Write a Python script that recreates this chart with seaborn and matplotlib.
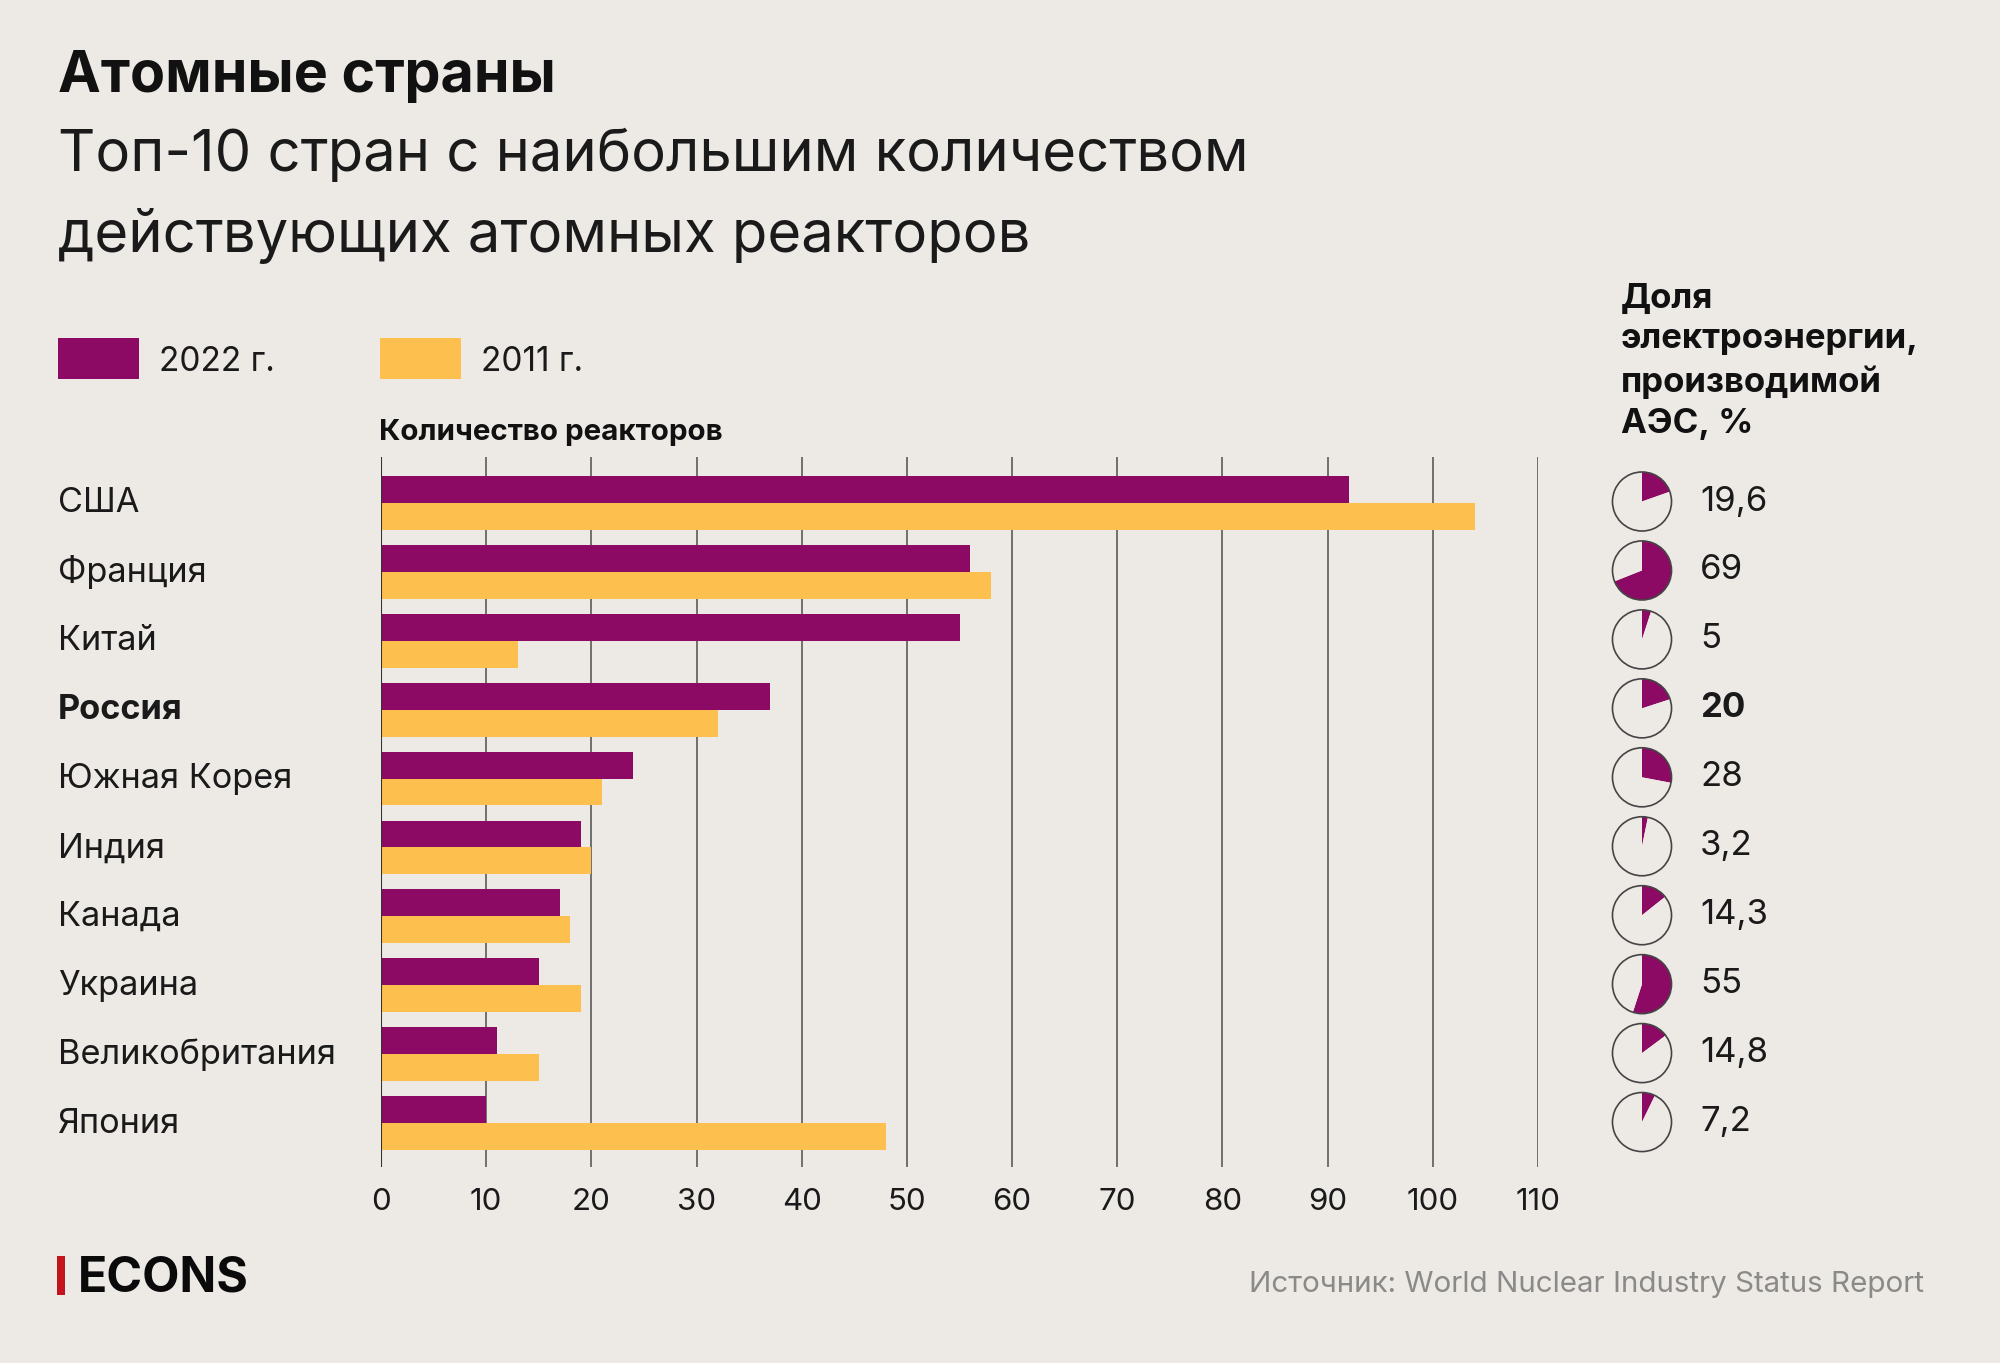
import seaborn as sns
import matplotlib.pyplot as plt
import pandas as pd
from matplotlib.patches import Rectangle

countries = ['США', 'Франция', 'Китай', 'Россия', 'Южная Корея', 'Индия', 'Канада', 'Украина', 'Великобритания', 'Япония']
reactors_2022 = [92, 56, 55, 37, 24, 19, 17, 15, 11, 10]
reactors_2011 = [104, 58, 13, 32, 21, 20, 18, 19, 15, 48]
nuclear_share = [19.6, 69, 5, 20, 28, 3.2, 14.3, 55, 14.8, 7.2]
share_labels = ['19,6', '69', '5', '20', '28', '3,2', '14,3', '55', '14,8', '7,2']
x_ticks = list(range(0, 111, 10))

BG = '#EDEAE6'
PLUM = '#8C0A63'
YELLOW = '#FDBF4D'
INK = '#1A1A1A'
W, H = 2000, 1363

sns.set_theme(style='white')
plt.rcParams['font.family'] = ['Inter', 'DejaVu Sans']

df = pd.DataFrame({
    'country': countries * 2,
    'count': reactors_2022 + reactors_2011,
    'year': ['2022 г.'] * 10 + ['2011 г.'] * 10,
})

fig = plt.figure(figsize=(W / 100, H / 100), dpi=100, facecolor=BG)

def fx(px):
    return px / W

def fy(px):
    return 1 - px / H

# main axes, pixel box of the plot area
ax = fig.add_axes([fx(381), fy(1167), fx(1538 - 381), (1167 - 457) / H], facecolor=BG)
sns.barplot(data=df, y='country', x='count', hue='year', order=countries,
            palette=[PLUM, YELLOW], width=0.78, gap=0, saturation=1, legend=False, ax=ax,
            zorder=3, linewidth=0)
ax.set_xlim(0, 110)
ax.set_ylim(9.64, -0.67)
ax.set_xticks(x_ticks)
ax.set_xlabel('')
ax.set_ylabel('')
ax.set_yticks([])
ax.grid(axis='x', color='#5A5A5A', linewidth=1.2, zorder=0)
ax.set_axisbelow(True)
sns.despine(ax=ax, left=True, right=True, top=True, bottom=True)
ax.axvline(0, color='#333333', linewidth=1.5, zorder=4)
ax.tick_params(axis='x', length=0, pad=15, labelsize=22.5, labelcolor=INK, bottom=False)

# titles
fig.text(fx(58), fy(77), 'Атомные страны', fontsize=41.3, fontweight='bold', color='#111111', va='center')
fig.text(fx(58), fy(156), 'Топ-10 стран с наибольшим количеством', fontsize=41.7, color=INK, va='center')
fig.text(fx(58), fy(236), 'действующих атомных реакторов', fontsize=41.7, color=INK, va='center')

# legend
for x0, colour, label in [(58, PLUM, '2022 г.'), (380, YELLOW, '2011 г.')]:
    fig.add_artist(Rectangle((fx(x0), fy(379)), fx(81), 41 / H, transform=fig.transFigure, color=colour, lw=0))
    fig.text(fx(x0 + 101), fy(362), label, fontsize=24, color=INK, va='center')

fig.text(fx(379), fy(433), 'Количество реакторов', fontsize=21.3, fontweight='bold', color='#111111', va='center')
fig.text(fx(1621), fy(361), 'Доля\nэлектроэнергии,\nпроизводимой\nАЭС, %', fontsize=25,
         fontweight='bold', color='#111111', va='center', linespacing=1.36)

# country names and share pies per row
pie_size = 62
for i, name in enumerate(countries):
    row_y = 501.5 + i * 68.95
    weight = 'bold' if name == 'Россия' else 'normal'
    fig.text(fx(58), fy(row_y + 2), name, fontsize=24.7, fontweight=weight, color=INK, va='center')
    fig.text(fx(1700), fy(row_y), share_labels[i], fontsize=25, fontweight=weight, color=INK, va='center')
    pie_ax = fig.add_axes([fx(1642 - pie_size / 2), fy(row_y + pie_size / 2), pie_size / W, pie_size / H])
    pie_ax.pie([nuclear_share[i], 100 - nuclear_share[i]], colors=[PLUM, BG], startangle=90, counterclock=False,
               radius=1, wedgeprops={'linewidth': 0})
    pie_ax.pie([1], colors=['none'], radius=1, wedgeprops={'linewidth': 1.2, 'edgecolor': '#444444', 'facecolor': 'none'})
    pie_ax.set_xlim(-1.05, 1.05)
    pie_ax.set_ylim(-1.05, 1.05)

# footer
fig.add_artist(Rectangle((fx(57), fy(1295)), fx(8), 39 / H, transform=fig.transFigure, color='#C4141E', lw=0))
fig.text(fx(78), fy(1279), 'ECONS', fontsize=34.8, fontweight='bold', color='#0A0A0A', va='center')
fig.text(fx(1924), fy(1284), 'Источник: World Nuclear Industry Status Report', fontsize=21.3, color='#8A8A88',
         va='center', ha='right')

fig.savefig('out.png', dpi=100, facecolor=BG)
